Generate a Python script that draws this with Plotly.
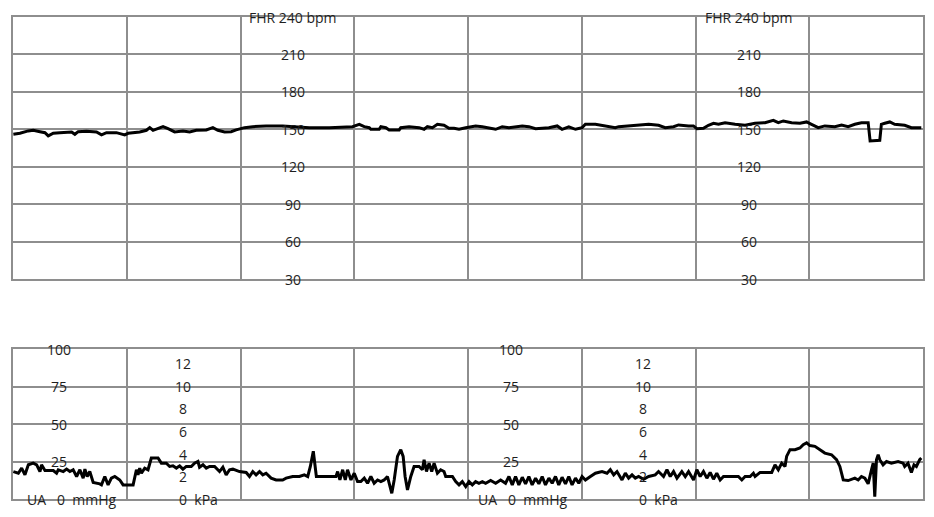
import plotly.graph_objects as go

# ---------------- data (time in minutes) ----------------
fhr_t = [0.003,0.061,0.134,0.178,0.237,0.281,0.310,0.354,0.412,0.471,0.515,0.544,0.573,0.646,0.734,0.778,0.822,0.909,0.982,1.012,
         1.114,1.173,1.202,1.231,1.319,1.363,1.421,1.494,1.553,1.611,1.699,1.757,1.801,1.860,1.918,1.962,2.035,2.108,2.225,2.371,2.518,
         2.605,2.781,2.985,3.044,3.088,3.132,3.146,3.219,3.234,3.278,3.307,3.395,3.409,3.482,3.570,3.614,3.643,3.687,3.731,3.789,
         3.833,3.877,3.921,3.980,4.067,4.126,4.184,4.243,4.301,4.360,4.477,4.535,4.594,4.652,4.711,4.784,4.827,4.886,4.945,5.003,
         5.032,5.120,5.178,5.295,
         5.325,5.412,5.500,5.588,5.675,5.734,5.807,5.851,5.939,5.982,6.012,6.070,6.114,6.158,6.202,6.260,6.348,6.436,6.523,6.611,
         6.684,6.728,6.772,6.845,6.918,6.977,7.020,7.079,7.137,7.225,7.284,7.342,7.401,7.459,7.518,7.535,7.620,7.634,7.664,7.708,
         7.751,7.839,7.898,7.985]
fhr_bpm = [146.0,146.8,148.7,149.2,148.1,147.3,144.7,146.8,147.3,147.9,147.9,146.0,148.1,148.4,147.9,145.5,147.3,147.3,145.5,146.8,
           147.9,149.2,151.3,149.2,152.1,150.5,147.9,148.7,147.9,149.2,149.5,151.3,149.2,147.9,148.1,149.5,151.3,152.1,152.7,152.7,152.1,
           151.3,151.3,152.1,154.0,152.1,151.3,150.0,150.0,152.1,151.3,149.5,149.5,151.3,152.1,151.3,150.0,152.1,151.3,154.0,153.2,
           150.8,150.8,150.0,151.3,152.7,152.1,151.3,150.0,152.1,151.3,152.7,152.1,150.5,150.8,151.3,152.7,150.0,151.9,150.0,151.3,
           154.0,154.0,153.2,151.3,
           152.1,152.7,153.2,154.0,153.2,151.3,152.1,153.5,152.7,152.7,150.5,150.8,153.2,154.8,154.0,155.3,154.0,153.2,154.8,155.3,
           157.2,155.3,156.7,155.3,154.8,155.9,154.0,151.3,152.7,152.1,153.5,152.1,154.0,155.3,155.3,140.7,141.2,154.0,154.8,155.9,
           154.0,153.2,151.3,151.3]

ua_t = [0.003,0.047,0.076,0.105,0.135,0.178,0.208,0.237,0.251,0.281,0.354,0.383,0.398,0.442,0.471,0.500,0.529,0.559,0.588,0.617,
        0.632,0.652,0.675,0.705,0.763,0.778,0.807,0.836,0.865,0.895,0.939,0.968,1.056,1.085,1.099,1.114,1.129,1.158,1.187,1.216,
        1.275,1.304,1.348,1.377,1.406,1.436,1.465,1.494,1.523,1.567,1.596,1.626,1.640,1.670,1.699,1.728,1.772,1.816,1.845,1.874,
        1.904,1.933,1.991,2.050,2.079,2.108,2.137,2.167,2.196,2.225,2.269,2.313,2.371,2.401,2.459,2.518,2.561,2.591,2.614,2.640,2.667,
        2.839,2.854,2.874,2.898,2.921,2.941,2.971,3.000,3.029,3.058,3.088,3.117,3.146,3.175,3.205,3.234,3.263,3.292,3.330,3.351,
        3.380,3.409,3.430,3.447,3.468,3.497,3.526,3.570,3.599,3.614,3.635,3.658,3.681,3.702,3.731,3.760,3.789,3.804,3.863,3.892,
        3.921,3.950,3.980,4.009,4.038,4.067,4.096,4.126,4.155,4.199,4.243,4.287,4.330,4.360,4.389,4.418,4.447,4.477,4.506,4.535,
        4.564,4.594,4.623,4.652,4.681,4.711,4.740,4.769,4.798,4.827,4.857,4.886,4.915,4.945,4.974,5.003,5.032,5.076,5.120,5.178,
        5.222,5.251,5.281,5.310,
        5.325,5.354,5.383,5.412,5.442,5.471,5.500,5.544,5.588,5.646,5.675,5.719,5.749,5.778,5.807,5.837,5.880,5.910,5.939,5.983,
        6.012,6.041,6.070,6.100,6.129,6.158,6.187,6.217,6.246,6.290,6.377,6.407,6.436,6.480,6.509,6.524,6.568,6.670,6.699,6.728,
        6.758,6.787,6.801,6.831,6.875,6.918,6.947,6.977,7.006,7.050,7.094,7.137,7.196,7.240,7.269,7.299,7.342,7.401,7.430,7.459,
        7.489,7.518,7.547,7.562,7.576,7.591,7.606,7.620,7.649,7.679,7.722,7.781,7.825,7.839,7.868,7.898,7.921,7.942,7.971,7.985]
ua_mmhg = [18.3,17.2,20.6,16.1,22.8,23.9,22.8,18.3,22.8,19.0,19.0,17.2,19.5,18.3,19.9,18.3,19.5,15.0,19.5,13.9,
           19.9,15.0,18.3,11.0,10.1,9.4,15.0,9.4,13.9,15.0,12.7,9.4,9.4,19.5,16.1,20.6,17.2,20.6,19.5,27.3,
           27.3,23.9,23.9,21.7,22.1,20.6,22.1,19.9,21.7,21.7,23.9,25.0,21.2,22.8,20.6,21.7,21.7,18.3,21.2,16.1,
           19.5,19.9,18.3,17.7,15.0,18.3,16.1,18.3,16.1,17.2,13.9,12.7,12.7,13.9,15.0,15.0,16.1,15.0,21.7,31.8,15.0,
           15.0,18.3,12.7,19.5,12.7,19.5,12.7,17.2,11.6,11.6,13.9,10.5,15.0,10.5,12.7,11.6,12.7,15.0,3.8,12.7,
           28.4,32.9,28.4,15.0,6.0,15.0,21.7,21.7,19.5,26.2,18.3,23.9,18.3,23.9,17.2,19.5,18.3,15.0,15.0,11.6,
           9.4,11.6,8.3,11.6,9.4,11.6,10.5,11.6,10.5,12.3,10.5,12.7,10.5,15.0,9.4,15.0,9.4,14.5,10.1,15.0,
           9.4,13.9,10.1,15.0,9.4,13.9,10.5,15.0,9.4,14.5,10.1,15.0,9.4,13.9,10.5,15.0,12.7,15.0,17.2,18.3,
           17.2,19.5,16.1,18.3,
           16.1,12.7,17.2,13.9,16.1,13.9,15.0,13.2,15.0,16.1,18.3,15.0,19.5,15.0,18.3,13.9,18.3,15.0,18.3,12.7,
           19.5,15.0,18.3,13.9,17.7,13.2,17.2,12.7,15.0,15.0,15.0,12.7,15.0,15.0,17.2,15.0,17.7,17.7,22.8,19.5,
           23.9,21.7,28.4,32.9,32.9,34.0,36.2,37.4,35.6,35.1,32.9,30.6,29.5,26.2,21.7,12.7,12.3,13.9,12.7,15.0,
           13.9,10.1,19.5,23.9,1.6,26.2,29.5,26.2,22.8,25.0,23.9,25.0,23.9,21.7,23.9,17.7,22.8,21.7,26.2,27.3]

fhr_label_values = [240, 210, 180, 150, 120, 90, 60, 30]
fhr_label_texts = ["FHR 240 bpm", "210", "180", "150", "120", "90", "60", "30"]
mmhg_label_values = [100, 75, 50, 25]
mmhg_label_texts = ["100", "75", "50", "25"]
kpa_label_values = [12, 10, 8, 6, 4, 2]
kpa_label_texts = ["12", "10", "8", "6", "4", "2"]

# label column positions (minutes)
fhr_label_x = [2.46, 6.47]
mmhg_label_x = [0.408, 4.377]
ua_title_x = [0.518, 4.478]
kpa_label_x = [1.491, 5.535]
kpa_zero_x = [1.445, 5.49]

GRID = "#8e8e8e"
TXT = "#1e1e1e"
FONT = "Open Sans"

fig = go.Figure()
fig.add_trace(go.Scatter(x=fhr_t, y=fhr_bpm, mode="lines", xaxis="x", yaxis="y",
                         line=dict(color="black", width=3), hoverinfo="skip", showlegend=False))
fig.add_trace(go.Scatter(x=ua_t, y=ua_mmhg, mode="lines", xaxis="x2", yaxis="y2",
                         line=dict(color="black", width=3), hoverinfo="skip", showlegend=False))

ann = []
for lx in fhr_label_x:
    for v, t in zip(fhr_label_values, fhr_label_texts):
        ann.append(dict(x=lx, y=v, xref="x", yref="y", text=t, showarrow=False,
                        xanchor="center", yanchor="middle"))
for lx in mmhg_label_x:
    for v, t in zip(mmhg_label_values, mmhg_label_texts):
        ann.append(dict(x=lx, y=v, xref="x2", yref="y2", text=t, showarrow=False,
                        xanchor="center", yanchor="middle"))
for lx in ua_title_x:
    ann.append(dict(x=lx, y=0, xref="x2", yref="y2", text="UA\u00a0\u00a0\u00a00\u00a0\u00a0mmHg",
                    showarrow=False, xanchor="center", yanchor="middle"))
for lx in kpa_label_x:
    for v, t in zip(kpa_label_values, kpa_label_texts):
        ann.append(dict(x=lx, y=v * 7.5006, xref="x2", yref="y2", text=t, showarrow=False,
                        xanchor="center", yanchor="middle"))
for lx in kpa_zero_x:
    ann.append(dict(x=lx, y=0, xref="x2", yref="y2", text="0\u00a0\u00a0kPa", showarrow=False,
                    xanchor="left", yanchor="middle"))

axis_common = dict(showgrid=True, gridcolor=GRID, gridwidth=1.6, showline=True, mirror=True,
                   linecolor=GRID, linewidth=1.6, zeroline=False, showticklabels=False, ticks="",
                   fixedrange=True)

fig.update_layout(
    width=934, height=517, autosize=False,
    margin=dict(l=13, r=9, t=17, b=18),
    paper_bgcolor="white", plot_bgcolor="white",
    font=dict(family=FONT, size=14, color=TXT),
    showlegend=False,
    xaxis=dict(domain=[0, 1], range=[0, 8], dtick=1, tick0=0, anchor="y", **axis_common),
    yaxis=dict(domain=[0.4564, 1], range=[30, 240], dtick=30, tick0=0, anchor="x", **axis_common),
    xaxis2=dict(domain=[0, 1], range=[0, 8], dtick=1, tick0=0, anchor="y2", matches="x", **axis_common),
    yaxis2=dict(domain=[0, 0.3112], range=[0, 100], dtick=25, tick0=0, anchor="x2", **axis_common),
    annotations=ann,
)

fig.write_html("out.html", config={"displayModeBar": False},
               post_script="document.body.style.margin='0px';document.body.style.overflow='hidden';")
